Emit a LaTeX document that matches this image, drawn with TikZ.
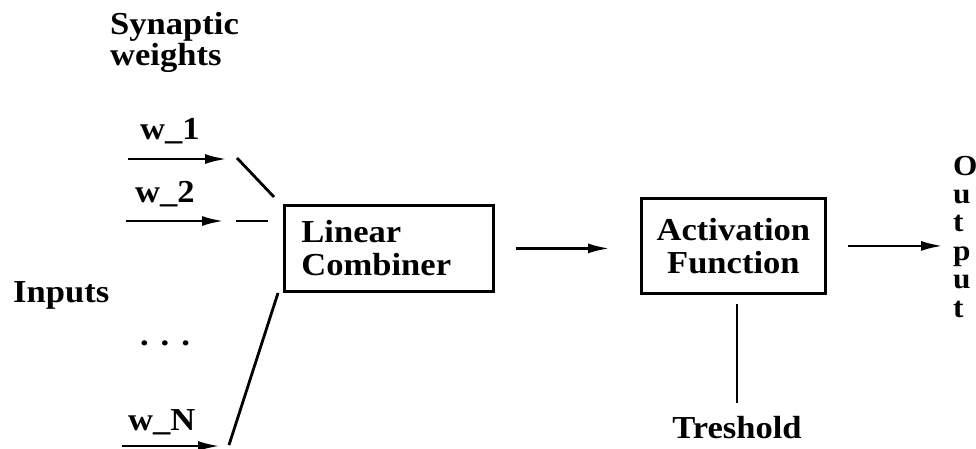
\documentclass[tikz,border=0pt]{standalone}
\usepackage{fontspec}
\setmainfont{Liberation Serif}[FakeStretch=1.08]
\usetikzlibrary{arrows.meta}
\begin{document}
\begin{tikzpicture}[x=1pt,y=-1pt,
  every node/.style={font=\bfseries\fontsize{32}{33}\selectfont, inner sep=0pt},
  conn/.style={line width=2.8pt},
  arr/.style={conn,-{Latex[length=22pt,width=10pt]}},
  blk/.style={draw,line width=2.8pt}]
\useasboundingbox (0,0) rectangle (976,448);

% blocks
\node[blk, anchor=north west, minimum width=209pt, minimum height=86pt,
      text width=175pt, inner xsep=17pt, align=left] (lc) at (283,204) {Linear\\Combiner};
\node[blk, anchor=north west, minimum width=184pt, minimum height=95pt,
      align=center] (af) at (640,197) {Activation\\Function};

% labels
\node[anchor=base west, align=left, font=\bfseries\fontsize{32}{29}\selectfont] (syn) at (110,65) {Synaptic\\weights};
\node[anchor=base west] (w1) at (140,139) {w\_1};
\node[anchor=base west] (w2) at (135,202) {w\_2};
\node[anchor=base west] (wN) at (128,430) {w\_N};
\node[anchor=base west] (inp) at (13,302) {Inputs};
\node[anchor=base] (dots) at (165,345) {.\hspace{12pt}.\hspace{12pt}.};
\node[anchor=base] (thr) at (737,438) {Treshold};
\node[anchor=base west, align=left, font=\bfseries\fontsize{29}{28.4}\selectfont] (out) at (953,317) {O\\u\\t\\p\\u\\t};

% free ends
\coordinate (s1) at (128,159);  \coordinate (e1) at (227,159);
\coordinate (l1a) at (237,158); \coordinate (l1b) at (274,197);
\coordinate (s2) at (126,221);  \coordinate (e2) at (224,221);
\coordinate (l2a) at (236,221); \coordinate (l2b) at (268,221);
\coordinate (sN) at (122,446);  \coordinate (eN) at (220,446);
\coordinate (lNa) at (229,445); \coordinate (lNb) at (278,293);
\coordinate (t1) at (737,304);  \coordinate (t2) at (737,403);
\coordinate (oe) at (943,246);

% connectors
\draw[arr] (s1) -- (e1);
\draw[conn] (l1a) -- (l1b);
\draw[arr] (s2) -- (e2);
\draw[conn] (l2a) -- (l2b);
\draw[arr] (sN) -- (eN);
\draw[conn] (lNa) -- (lNb);
\draw[arr, shorten <=21pt, shorten >=30pt] (lc.east) -- (lc.east -| af.west);
\draw[arr, shorten <=21pt] (af.east) -- (af.east -| oe);
\draw[conn] (t1) -- (t2);
\end{tikzpicture}
\end{document}
